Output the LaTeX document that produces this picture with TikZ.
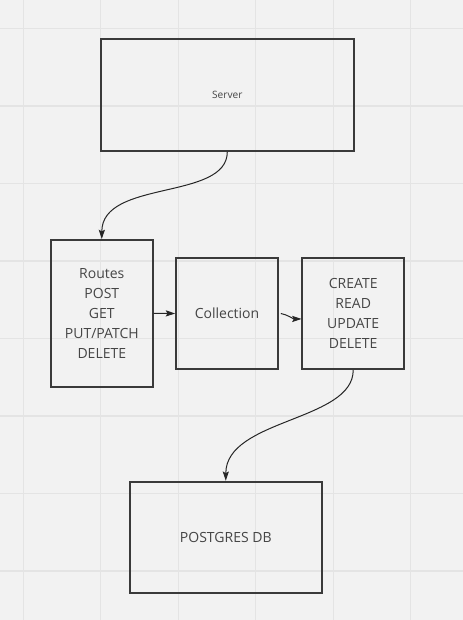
\documentclass[tikz,border=0pt]{standalone}
\usepackage{fontspec}
\setmainfont{Open Sans}
\usetikzlibrary{arrows.meta}
\definecolor{bg}{HTML}{F2F2F2}
\definecolor{gridc}{HTML}{E4E4E4}
\definecolor{boxc}{HTML}{3A3A3A}
\definecolor{txt}{HTML}{454545}
\tikzset{
  box/.style={draw=boxc, line width=1.3pt, rectangle, inner sep=0pt, text=txt, align=center, font=\fontsize{10.5pt}{15pt}\selectfont},
  conn/.style={draw=black!85, line width=0.75pt, -{Stealth[length=7pt,width=4.6pt,inset=1.2pt]}},
}
\begin{document}
\begin{tikzpicture}[x=0.75pt,y=-0.75pt]
\fill[bg] (0,0) rectangle (463,620);
\useasboundingbox (0,0) rectangle (463,620);
\foreach \gx in {23.2,100.7,178.2,255.7,333.2,410.7}
  \draw[gridc, line width=0.8pt] (\gx,0) -- (\gx,620);
\foreach \gy in {28.5,106,183.5,261,338.5,416,493.5,571}
  \draw[gridc, line width=0.8pt] (0,\gy) -- (463,\gy);

\node[box, minimum width=190pt, minimum height=84.2pt, font=\fontsize{7.6pt}{10pt}\selectfont] (server) at (227.3,94.8) {Server};
\node[box, minimum width=76.3pt, minimum height=110pt] (routes) at (101.8,313.3) {Routes\\POST\\GET\\PUT/PATCH\\DELETE};
\node[box, minimum width=76.5pt, minimum height=83.7pt] (coll) at (227,313.5) {Collection};
\node[box, minimum width=76.3pt, minimum height=83.7pt] (crud) at (353.2,313.5) {CREATE\\READ\\UPDATE\\DELETE};
\node[box, minimum width=143.8pt, minimum height=83.7pt] (pg) at (225.8,537.5) {POSTGRES DB};

\coordinate (crudin) at ([yshift=-4.1pt]crud.west);

\draw[conn] (server.south) .. controls +(0,49) and +(0,-60) .. (routes.north);
\draw[conn] (routes.east) -- (coll.west);
\draw[conn] ([xshift=1.5pt]coll.east) .. controls +(6,1) and +(-8,0) .. (crudin);
\draw[conn] (crud.south) .. controls +(0,51) and +(0,-62) .. (pg.north);
\end{tikzpicture}
\end{document}
